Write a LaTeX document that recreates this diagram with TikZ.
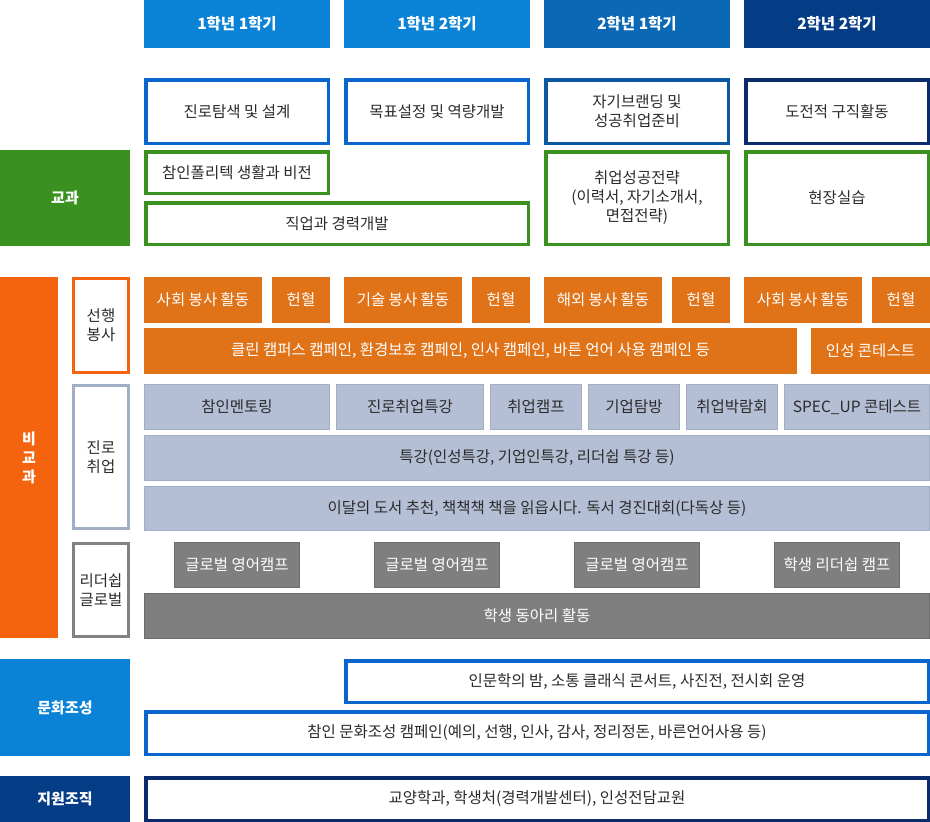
\documentclass[tikz,border=0pt]{standalone}
\usepackage{fontspec}
\setmainfont{Noto Sans CJK KR}
\usepackage{tikz}
\usetikzlibrary{positioning}
\usepackage{xcolor}
\definecolor{skyblue}{HTML}{0A82D6}
\definecolor{midblue}{HTML}{0A68B4}
\definecolor{navy}{HTML}{053C86}
\definecolor{lineblue}{HTML}{0A66CC}
\definecolor{linemid}{HTML}{0C56A2}
\definecolor{linenavy}{HTML}{0A2B6C}
\definecolor{leaf}{HTML}{3A9120}
\definecolor{flame}{HTML}{F4640F}
\definecolor{rust}{HTML}{E07318}
\definecolor{haze}{HTML}{B4BED4}
\definecolor{hazeline}{HTML}{A2ADC6}
\definecolor{stone}{HTML}{7F7F7F}
\definecolor{stoneline}{HTML}{6C6C6C}
\definecolor{ink}{HTML}{2B2B2B}

\tikzset{
  cell/.style={inner sep=0pt, outer sep=0pt, align=center, font=\fontsize{15.5}{19}\selectfont},
  head/.style={cell, fill=#1, text=white, font=\fontsize{15.5}{19}\selectfont\bfseries, minimum width=186, minimum height=47.5},
  area/.style={cell, fill=#1, text=white, font=\fontsize{15}{19}\selectfont\bfseries, minimum width=130},
  framebox/.style={cell, draw=#1, line width=3.5pt, fill=white, text=ink},
  sidebox/.style={cell, draw=#1, line width=3pt, fill=white, text=ink, minimum width=55},
  solidbox/.style={cell, fill=#1, text=white, minimum height=46},
  hazebox/.style={cell, fill=haze, draw=hazeline, line width=1pt, text=ink, minimum height=45},
  stonebox/.style={cell, fill=stone, draw=stoneline, line width=1pt, text=white, minimum height=45}
}

\begin{document}
\begin{tikzpicture}[x=1pt, y=-1pt]
  \useasboundingbox (0,0) rectangle (930,822);
  % semesters
  \node[head=skyblue] (sem1) at (237,23.75) {1학년 1학기};
  \node[head=skyblue] (sem2) at (437,23.75) {1학년 2학기};
  \node[head=midblue] (sem3) at (637,23.75) {2학년 1학기};
  \node[head=navy] (sem4) at (837,23.75) {2학년 2학기};
  % goals
  \node[framebox=lineblue, minimum width=182.5, minimum height=63.5] (goal1) at (237,111.5) {진로탐색 및 설계};
  \node[framebox=lineblue, minimum width=182.5, minimum height=63.5] (goal2) at (437,111.5) {목표설정 및 역량개발};
  \node[framebox=linemid, minimum width=182.5, minimum height=63.5] (goal3) at (637,111.5) {자기브랜딩 및\\성공취업준비};
  \node[framebox=linenavy, minimum width=182.5, minimum height=63.5] (goal4) at (837,111.5) {도전적 구직활동};
  % curriculum
  \node[area=leaf, minimum height=96] (course) at (65,198) {교과};
  \node[framebox=leaf, minimum width=182.5, minimum height=41.5] (vision) at (237,172.5) {참인폴리텍 생활과 비전};
  \node[framebox=leaf, minimum width=382.5, minimum height=41.5] (career) at (337,223.5) {직업과 경력개발};
  \node[framebox=leaf, minimum width=182.5, minimum height=92.5] (strategy) at (637,198) {취업성공전략\\(이력서, 자기소개서,\\면접전략)};
  \node[framebox=leaf, minimum width=182.5, minimum height=92.5] (intern) at (837,198) {현장실습};
  % extra-curricular
  \node[cell, fill=flame, text=white, font=\fontsize{15}{19}\selectfont\bfseries, minimum width=58, minimum height=361] (extra) at (29,457.5) {비\\교\\과};
  \node[sidebox=flame, minimum height=94] (serve) at (101,325.5) {선행\\봉사};
  \node[sidebox=hazeline, minimum height=143] (job) at (101,457) {진로\\취업};
  \node[sidebox=stoneline!85, minimum height=93] (lead) at (101,590) {리더쉽\\글로벌};
  % service
  \node[solidbox=rust, minimum width=118] (vol1) at (203,300) {사회 봉사 활동};
  \node[solidbox=rust, minimum width=58] (blood1) at (301,300) {헌혈};
  \node[solidbox=rust, minimum width=118] (vol2) at (403,300) {기술 봉사 활동};
  \node[solidbox=rust, minimum width=58] (blood2) at (501,300) {헌혈};
  \node[solidbox=rust, minimum width=118] (vol3) at (603,300) {해외 봉사 활동};
  \node[solidbox=rust, minimum width=58] (blood3) at (701,300) {헌혈};
  \node[solidbox=rust, minimum width=118] (vol4) at (803,300) {사회 봉사 활동};
  \node[solidbox=rust, minimum width=58] (blood4) at (901,300) {헌혈};
  \node[solidbox=rust, minimum width=653] (campaign) at (470.5,351) {클린 캠퍼스 캠페인, 환경보호 캠페인, 인사 캠페인, 바른 언어 사용 캠페인 등};
  \node[solidbox=rust, minimum width=119] (contest) at (870.5,351) {인성 콘테스트};
  % career and jobs
  \node[hazebox, minimum width=185] (mentor) at (237,407) {참인멘토링};
  \node[hazebox, minimum width=147] (talk) at (410,407) {진로취업특강};
  \node[hazebox, minimum width=91] (camp) at (536,407) {취업캠프};
  \node[hazebox, minimum width=91] (visit) at (634,407) {기업탐방};
  \node[hazebox, minimum width=91] (fair) at (732,407) {취업박람회};
  \node[hazebox, minimum width=145] (spec) at (857,407) {SPEC\_UP 콘테스트};
  \node[hazebox, minimum width=785] (lecture) at (537,458) {특강(인성특강, 기업인특강, 리더쉽 특강 등)};
  \node[hazebox, minimum width=785, minimum height=44] (reading) at (537,508.5) {이달의 도서 추천, 책책책 책을 읽읍시다. 독서 경진대회(다독상 등)};
  % leadership
  \node[stonebox, minimum width=125] (eng1) at (237,565) {글로벌 영어캠프};
  \node[stonebox, minimum width=125] (eng2) at (437,565) {글로벌 영어캠프};
  \node[stonebox, minimum width=125] (eng3) at (637,565) {글로벌 영어캠프};
  \node[stonebox, minimum width=125] (leader) at (837,565) {학생 리더쉽 캠프};
  \node[stonebox, minimum width=785] (club) at (537,616) {학생 동아리 활동};
  % culture
  \node[area=skyblue, minimum height=97] (culture) at (65,707.5) {문화조성};
  \node[framebox=lineblue, minimum width=582.5, minimum height=41.5] (humanity) at (637,681.5) {인문학의 밤, 소통 클래식 콘서트, 사진전, 전시회 운영};
  \node[framebox=lineblue, minimum width=782.5, minimum height=42.5] (manner) at (537,733) {참인 문화조성 캠페인(예의, 선행, 인사, 감사, 정리정돈, 바른언어사용 등)};
  % support
  \node[area=navy, minimum height=46] (support) at (65,799) {지원조직};
  \node[framebox=linenavy, minimum width=782.5, minimum height=42.5] (staff) at (537,799) {교양학과, 학생처(경력개발센터), 인성전담교원};
\end{tikzpicture}
\end{document}
